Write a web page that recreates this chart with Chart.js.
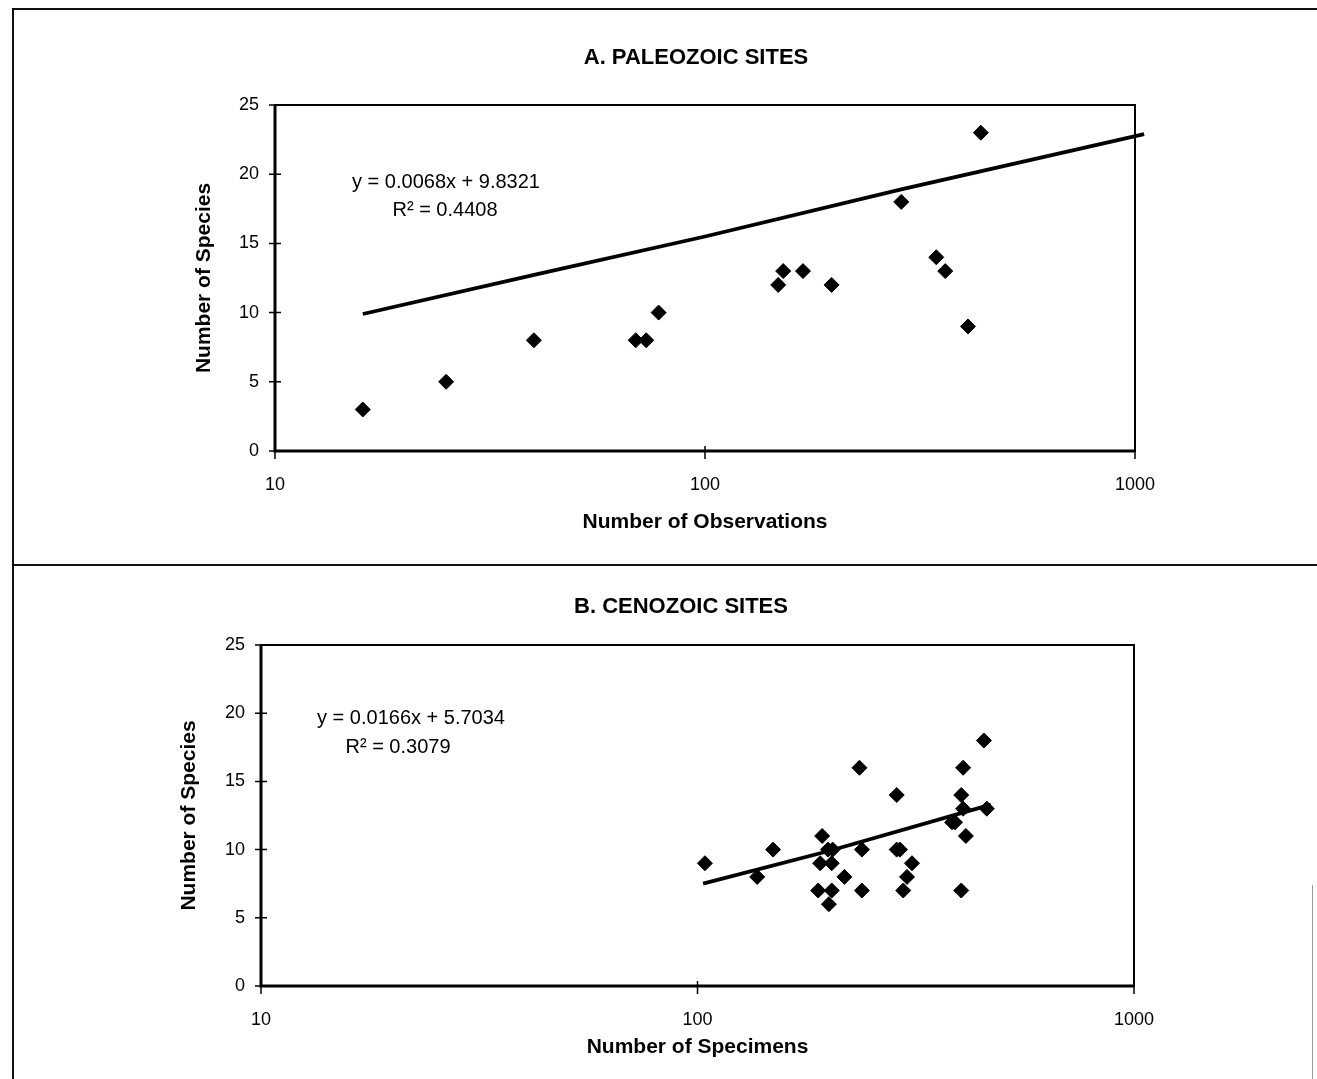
<!DOCTYPE html>
<html>
<head>
<meta charset="utf-8">
<script src="https://cdn.jsdelivr.net/npm/chart.js@4.4.1/dist/chart.umd.min.js"></script>
<style>
  html, body { margin: 0; padding: 0; background: #fff; }
  body { width: 1317px; height: 1079px; position: relative; overflow: hidden; }
  .panel { position: absolute; left: 0; width: 1317px; }
  #panel-a { top: 0; height: 565px; }
  #panel-b { top: 565px; height: 514px; }
  .frame { position: absolute; background: #111; }
</style>
</head>
<body>
<div class="panel" id="panel-a"><canvas id="paleozoic-canvas"></canvas></div>
<div class="panel" id="panel-b"><canvas id="cenozoic-canvas"></canvas></div>
<div class="frame" style="left:12px;top:8px;width:1305px;height:2px"></div>
<div class="frame" style="left:12px;top:8px;width:2px;height:1071px"></div>
<div class="frame" style="left:12px;top:564px;width:1305px;height:2px"></div>
<div class="frame" style="left:1312px;top:885px;width:1px;height:194px;background:#999"></div>
<script>
// A. Paleozoic sites
const paleoObservations = [16, 25, 40, 69, 73, 78, 148, 152, 169, 197, 286, 345, 362, 409, 438];
const paleoSpecies = [3, 5, 8, 8, 8, 10, 12, 13, 13, 12, 18, 14, 13, 9, 23];
const paleoTrendX = [16, 41, 100, 286, 1050];
const paleoTrendY = [9.9, 12.8, 15.5, 18.9, 22.9];

// B. Cenozoic sites
const cenoSpecimens = [104, 137, 149, 193, 191, 189, 199, 204, 203, 203, 200, 217, 235, 238, 238,
                       286, 286, 291, 310, 302, 296, 406, 402, 406, 383, 389, 412, 402, 460, 453];
const cenoSpecies = [9, 8, 10, 11, 9, 7, 10, 10, 9, 7, 6, 8, 16, 10, 7,
                     14, 10, 10, 9, 8, 7, 16, 14, 13, 12, 12, 11, 7, 13, 18];
const cenoTrendX = [103, 200, 470];
const cenoTrendY = [7.5, 9.9, 13.3];

const xTickValues = [10, 100, 1000];
const yTickValues = [0, 5, 10, 15, 20, 25];

const FONT = "'Liberation Sans', Arial, Helvetica, sans-serif";
Chart.defaults.font.family = FONT;
Chart.defaults.color = '#000';

const framePlugin = {
    id: 'frame',
    afterDraw(chart) {
        const { ctx, chartArea: a, scales: { x, y } } = chart;
        const o = chart.options.plugins.frame;
        ctx.save();
        ctx.strokeStyle = '#000';
        ctx.lineWidth = 2;
        ctx.strokeRect(a.left, a.top, a.right - a.left, a.bottom - a.top);
        ctx.lineWidth = 3;
        ctx.beginPath();
        ctx.moveTo(a.left, a.top);
        ctx.lineTo(a.left, a.bottom);
        ctx.lineTo(a.right, a.bottom);
        ctx.stroke();
        // tick marks cross the axis lines
        ctx.lineWidth = 1.5;
        ctx.beginPath();
        y.ticks.forEach(t => {
            const py = y.getPixelForValue(t.value);
            ctx.moveTo(a.left - 6, py);
            ctx.lineTo(a.left + 6, py);
        });
        x.ticks.forEach(t => {
            const px = x.getPixelForValue(t.value);
            ctx.moveTo(px, a.bottom - 5);
            ctx.lineTo(px, a.bottom + 8);
        });
        ctx.stroke();

        ctx.fillStyle = '#000';
        ctx.textAlign = 'center';
        ctx.textBaseline = 'middle';
        ctx.font = 'bold 22px ' + FONT;
        ctx.fillText(o.title, o.titleX, o.titleY);
        ctx.font = '20px ' + FONT;
        o.notes.forEach(n => ctx.fillText(n.text, n.x, n.y));
        ctx.restore();
    }
};

function makeChart(canvasId, cfg) {
    return new Chart(document.getElementById(canvasId), {
        data: {
            datasets: [{
                type: 'scatter',
                data: cfg.xs.map((x, i) => ({ x: x, y: cfg.ys[i] })),
                pointStyle: 'rectRot',
                pointRadius: 7.5,
                backgroundColor: '#000',
                borderColor: '#000',
                borderWidth: 1,
            }, {
                type: 'line',
                data: cfg.trendX.map((x, i) => ({ x: x, y: cfg.trendY[i] })),
                borderColor: '#000',
                borderWidth: 3.8,
                pointRadius: 0,
                tension: 0,
                clip: false,
            }]
        },
        options: {
            responsive: true,
            maintainAspectRatio: false,
            animation: false,
            layout: { padding: cfg.padding },
            plugins: {
                legend: { display: false },
                tooltip: { enabled: false },
                frame: cfg.frame,
            },
            scales: {
                x: {
                    type: 'logarithmic',
                    min: 10,
                    max: 1000,
                    afterBuildTicks: (s) => { s.ticks = xTickValues.map(v => ({ value: v })); },
                    afterFit: (s) => { s.height = cfg.xAxisHeight; },
                    grid: { display: false, drawTicks: false },
                    border: { display: false },
                    ticks: {
                        padding: 23,
                        autoSkip: false,
                        maxRotation: 0,
                        font: { size: 18 },
                        callback: (value) => String(value),
                    },
                    title: {
                        display: true,
                        text: cfg.xTitle,
                        padding: 0,
                        font: { size: 21, weight: 'bold' },
                    }
                },
                y: {
                    min: 0,
                    max: 25,
                    afterBuildTicks: (s) => { s.ticks = yTickValues.map(v => ({ value: v })); },
                    afterFit: (s) => { s.width = cfg.yAxisWidth; },
                    grid: { display: false, drawTicks: false },
                    border: { display: false },
                    ticks: {
                        padding: 16,
                        font: { size: 18 },
                    },
                    title: {
                        display: true,
                        text: 'Number of Species',
                        padding: 0,
                        font: { size: 21, weight: 'bold' },
                    }
                }
            }
        },
        plugins: [framePlugin]
    });
}

makeChart('paleozoic-canvas', {
    xs: paleoObservations,
    ys: paleoSpecies,
    trendX: paleoTrendX,
    trendY: paleoTrendY,
    xTitle: 'Number of Observations',
    padding: { left: 192, right: 182, top: 105, bottom: 30 },
    yAxisWidth: 83,
    xAxisHeight: 84,
    frame: {
        title: 'A. PALEOZOIC SITES', titleX: 696, titleY: 58,
        notes: [
            { text: 'y = 0.0068x + 9.8321', x: 446, y: 182 },
            { text: 'R² = 0.4408', x: 445, y: 210 },
        ]
    }
});

makeChart('cenozoic-canvas', {
    xs: cenoSpecimens,
    ys: cenoSpecies,
    trendX: cenoTrendX,
    trendY: cenoTrendY,
    xTitle: 'Number of Specimens',
    padding: { left: 177, right: 183, top: 80, bottom: 19 },
    yAxisWidth: 84,
    xAxisHeight: 74,
    frame: {
        title: 'B. CENOZOIC SITES', titleX: 681, titleY: 42,
        notes: [
            { text: 'y = 0.0166x + 5.7034', x: 411, y: 153 },
            { text: 'R² = 0.3079', x: 398, y: 182 },
        ]
    }
});
</script>
</body>
</html>
